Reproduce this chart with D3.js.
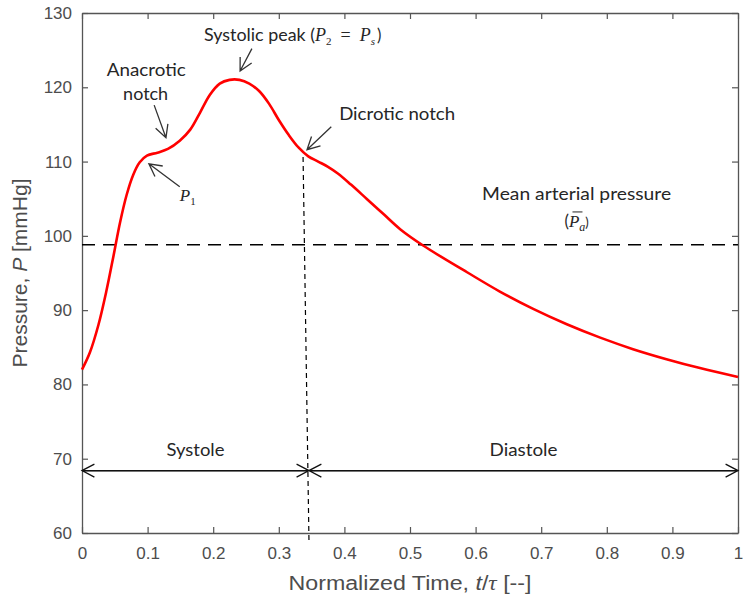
<!DOCTYPE html>
<html><head><meta charset="utf-8">
<script src="https://cdn.jsdelivr.net/npm/d3@7"></script>
<style>body{margin:0;background:#fff;} svg{display:block;}</style>
</head><body>
<svg id="c" width="743" height="605"></svg>
<script>
const tValues = [0, 0.012, 0.025, 0.037, 0.048, 0.058, 0.068, 0.078, 0.088, 0.099, 0.115, 0.131, 0.149, 0.165, 0.18, 0.195, 0.21, 0.225, 0.24, 0.255, 0.27, 0.285, 0.3, 0.315, 0.33, 0.345, 0.36, 0.375, 0.39, 0.41, 0.435, 0.46, 0.485, 0.52, 0.587, 0.637, 0.687, 0.739, 0.79, 0.84, 0.891, 0.942, 1.0];
const pValues = [82.0, 84.3, 88.0, 92.5, 97.3, 101.8, 105.5, 108.2, 109.9, 110.8, 111.2, 111.7, 112.8, 114.3, 116.6, 119.0, 120.5, 121.0, 121.0, 120.5, 119.5, 117.8, 115.6, 113.6, 111.9, 110.7, 110.0, 109.3, 108.4, 106.9, 104.9, 102.9, 100.9, 98.7, 95.1, 92.5, 90.2, 88.1, 86.3, 84.75, 83.4, 82.2, 81.0];
const xTicks = [0, 0.1, 0.2, 0.3, 0.4, 0.5, 0.6, 0.7, 0.8, 0.9, 1];
const yTicks = [60, 70, 80, 90, 100, 110, 120, 130];
const meanPressure = 98.8;
const notchTime = [0.337, 0.346];
const phaseY = 68.4;
const phaseBounds = [0, 0.346, 1];
const phaseLabels = ["Systole", "Diastole"];

const svg = d3.select("#c");
const L = 82, T = 13, W = 656, H = 520;
const x = d3.scaleLinear().domain([0, 1]).range([L, L + W]);
const y = d3.scaleLinear().domain([60, 130]).range([T + H, T]);
const axisColor = "#555";
const tickFont = "Liberation Sans, Arial, sans-serif";
const annFont = "Lato, 'Open Sans', sans-serif";
const mathFont = "'Liberation Serif', 'DejaVu Serif', serif";
const annColor = "#262626";

// axes (MATLAB style box with inward ticks)
const gx = svg.append("g").attr("transform", `translate(0,${T + H})`)
  .call(d3.axisBottom(x).tickValues(xTicks).tickSizeInner(-6).tickSizeOuter(0).tickPadding(14).tickFormat(d => d3.format("")(d)));
const gxt = svg.append("g").attr("transform", `translate(0,${T})`)
  .call(d3.axisTop(x).tickValues(xTicks).tickSizeInner(-6).tickSizeOuter(0).tickFormat(""));
const gy = svg.append("g").attr("transform", `translate(${L},0)`)
  .call(d3.axisLeft(y).tickValues(yTicks).tickSizeInner(-6).tickSizeOuter(0).tickPadding(10));
const gyr = svg.append("g").attr("transform", `translate(${L + W},0)`)
  .call(d3.axisRight(y).tickValues(yTicks).tickSizeInner(-6).tickSizeOuter(0).tickFormat(""));
[gx, gxt, gy, gyr].forEach(g => {
  g.select(".domain").attr("stroke", axisColor).attr("stroke-width", 1.3);
  g.selectAll(".tick line").attr("stroke", axisColor).attr("stroke-width", 1.2);
  g.selectAll(".tick text").attr("fill", "#4d4d4d").style("font-family", tickFont).style("font-size", "17px");
});

// axis labels
const xl = svg.append("text").attr("x", x(0.5)).attr("y", 590).attr("text-anchor", "middle")
  .attr("textLength", 243).attr("lengthAdjust", "spacingAndGlyphs")
  .style("font-family", tickFont).style("font-size", "20px").attr("fill", "#4d4d4d");
xl.append("tspan").text("Normalized Time, ");
xl.append("tspan").text("t").style("font-style", "italic");
xl.append("tspan").text("/");
xl.append("tspan").text("τ").style("font-style", "italic").style("font-family", mathFont);
xl.append("tspan").text(" [--]");

const yl = svg.append("text").attr("transform", `translate(27,${y(95)}) rotate(-90)`).attr("text-anchor", "middle")
  .attr("textLength", 189).attr("lengthAdjust", "spacingAndGlyphs")
  .style("font-family", tickFont).style("font-size", "20px").attr("fill", "#4d4d4d");
yl.append("tspan").text("Pressure, ");
yl.append("tspan").text("P").style("font-style", "italic");
yl.append("tspan").text(" [mmHg]");

// mean pressure dashed line
svg.append("line").attr("x1", x(0)).attr("x2", x(1)).attr("y1", y(meanPressure)).attr("y2", y(meanPressure))
  .attr("stroke", "#000").attr("stroke-width", 1.3).attr("stroke-dasharray", "13,8");

// dicrotic notch vertical dashed line
svg.append("line").attr("x1", x(notchTime[0])).attr("x2", x(notchTime[1])).attr("y1", y(110.6)).attr("y2", y(58.9))
  .attr("stroke", "#000").attr("stroke-width", 1.2).attr("stroke-dasharray", "5,4");

// pressure curve
const data = tValues.map((t, i) => [t, pValues[i]]);
svg.append("path").datum(data)
  .attr("d", d3.line().x(d => x(d[0])).y(d => y(d[1])).curve(d3.curveCatmullRom.alpha(0.5)))
  .attr("fill", "none").attr("stroke", "#ff0000").attr("stroke-width", 2.6);

// arrow helper (open V head at end)
function arrow(x1, y1, x2, y2, head = 12, color = "#333", sw = 1.3) {
  const a = Math.atan2(y2 - y1, x2 - x1), s = Math.PI / 6.5;
  const p = `M${x1},${y1}L${x2},${y2}` +
    `M${x2 - head * Math.cos(a - s)},${y2 - head * Math.sin(a - s)}L${x2},${y2}L${x2 - head * Math.cos(a + s)},${y2 - head * Math.sin(a + s)}`;
  svg.append("path").attr("d", p).attr("fill", "none").attr("stroke", color).attr("stroke-width", sw);
}
// annotation arrows (data units)
const annArrows = [
  [[0.110, 117.6], [0.128, 113.2]],
  [[0.149, 106.6], [0.102, 109.7]],
  [[0.259, 125.2], [0.241, 122.2]],
  [[0.380, 114.7], [0.343, 111.6]]
];
annArrows.forEach(([a, b]) => arrow(x(a[0]), y(a[1]), x(b[0]), y(b[1]), 14, "#333", 1.3));

// phase double arrows
const phaseWidths = [58, 68];
for (let i = 0; i < 2; i++) {
  const xa = x(phaseBounds[i]), xb = x(phaseBounds[i + 1]), yy = y(phaseY);
  svg.append("line").attr("x1", xa).attr("x2", xb).attr("y1", yy).attr("y2", yy).attr("stroke", "#111").attr("stroke-width", 1.3);
  arrow(xb - 1, yy, xa, yy, 14, "#111", 1.3);
  arrow(xa + 1, yy, xb, yy, 14, "#111", 1.3);
  svg.append("text").attr("x", (xa + xb) / 2).attr("y", y(70.4)).attr("text-anchor", "middle")
    .attr("textLength", phaseWidths[i]).attr("lengthAdjust", "spacingAndGlyphs")
    .style("font-family", annFont).style("font-size", "16.5px").attr("fill", annColor).text(phaseLabels[i]);
}

// text annotations
function label(t, p, str, anchor, len) {
  return svg.append("text").attr("x", x(t)).attr("y", y(p)).attr("text-anchor", anchor)
    .attr("textLength", len).attr("lengthAdjust", "spacingAndGlyphs")
    .style("font-family", annFont).style("font-size", "16.5px").attr("fill", annColor).text(str);
}
label(0.098, 121.5, "Anacrotic", "middle", 79);
label(0.097, 118.3, "notch", "middle", 45);
label(0.392, 115.6, "Dicrotic notch", "start", 116);
label(0.754, 104.8, "Mean arterial pressure", "middle", 189);

// Systolic peak (P2 = Ps)
const sp = svg.append("text").attr("x", x(0.186)).attr("y", y(126.2))
  .style("font-family", annFont).style("font-size", "16.5px").attr("fill", annColor);
sp.append("tspan").text("Systolic peak (").attr("textLength", 111).attr("lengthAdjust", "spacingAndGlyphs");
sp.append("tspan").text("P").style("font-family", mathFont).style("font-style", "italic").style("font-size", "18px");
sp.append("tspan").text("2").attr("dy", 4).style("font-size", "11px").style("font-family", mathFont);
sp.append("tspan").text("\u2002=\u2002").attr("dy", -4).style("font-family", mathFont).style("font-size", "18px");
sp.append("tspan").text("P").style("font-family", mathFont).style("font-style", "italic").style("font-size", "18px");
sp.append("tspan").text("s").attr("dy", 4).style("font-size", "11px").style("font-family", mathFont).style("font-style", "italic");
sp.append("tspan").text("\u2009)").attr("dy", -4);

// P1
const p1 = svg.append("text").attr("x", x(0.149)).attr("y", y(104.7))
  .style("font-family", mathFont).style("font-size", "17px").attr("fill", annColor);
p1.append("tspan").text("P").style("font-style", "italic");
p1.append("tspan").text("1").attr("dy", 4).style("font-size", "11px");

// (P̄a)
const pa = svg.append("text").attr("x", x(0.754)).attr("y", y(101.2)).attr("text-anchor", "middle")
  .style("font-family", annFont).style("font-size", "16.5px").attr("fill", annColor);
pa.append("tspan").text("(");
pa.append("tspan").text("P").style("font-family", mathFont).style("font-style", "italic").style("font-size", "17px");
pa.append("tspan").text("a").attr("dy", 4).style("font-family", mathFont).style("font-style", "italic").style("font-size", "12px");
pa.append("tspan").text(")").attr("dy", -4).style("font-size", "13px");
// overbar over P
const bb = pa.node().getBBox();
svg.append("line").attr("x1", bb.x + 8).attr("x2", bb.x + 18).attr("y1", y(101.2) - 15).attr("y2", y(101.2) - 15)
  .attr("stroke", annColor).attr("stroke-width", 1);
</script>
</body></html>
